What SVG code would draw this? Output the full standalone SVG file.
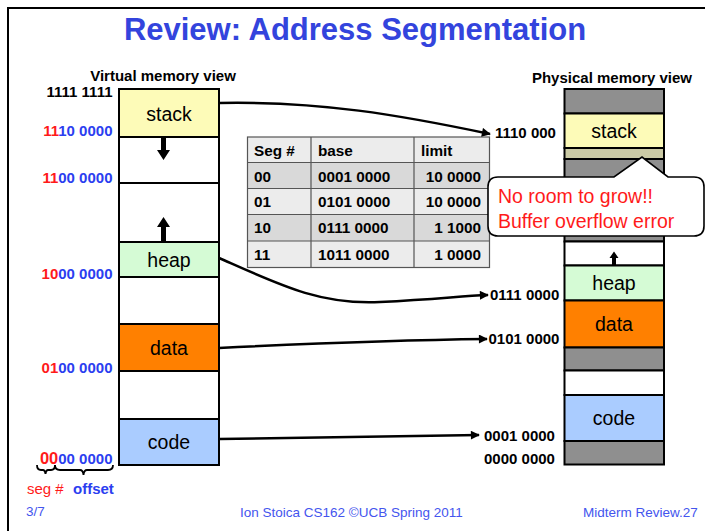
<svg xmlns="http://www.w3.org/2000/svg" width="705" height="531" viewBox="0 0 705 531">
<defs>
<style>
text{font-family:"Liberation Sans",Arial,Helvetica,sans-serif}
.seg{stroke:#000;stroke-width:2}
.lbl{font-size:19.5px;text-anchor:middle;fill:#000}
.addr{font-size:15px;font-weight:bold;fill:#000}
.red{fill:#ff1a1a}
.blue{fill:#2b3ef0}
.tb{font-size:15.3px;font-weight:bold;fill:#000}
.cell{stroke:#555;stroke-width:1.2}
.conn{fill:none;stroke:#000;stroke-width:2.5}
.foot{font-size:13.5px;fill:#4455ee}
</style>
<marker id="ah" viewBox="0 0 10 10" refX="9" refY="5" markerWidth="4" markerHeight="3.6" orient="auto" markerUnits="strokeWidth">
<path d="M0,0 L10,5 L0,10 z" fill="#000"/>
</marker>
</defs>
<rect width="705" height="531" fill="#fff"/>
<path d="M8,531 V8 H705" fill="none" stroke="#000" stroke-width="2"/>
<text x="355" y="39.5" font-size="31" font-weight="bold" text-anchor="middle" fill="#3344dd">Review: Address Segmentation</text>

<g id="virtual-view">
<text x="163" y="80.5" font-size="15" font-weight="bold" text-anchor="middle">Virtual memory view</text>
<rect class="seg" x="119" y="89" width="100" height="48" fill="#fdfbb8"/>
<text class="lbl" x="169" y="120.5">stack</text>
<rect class="seg" x="119" y="137" width="100" height="46" fill="#fff"/>
<rect class="seg" x="119" y="183" width="100" height="59" fill="#fff"/>
<path d="M161,137 V150 H157 L163.5,160 L170,150 H166 V137 Z" fill="#000"/>
<path d="M161,242 V227 H157 L163.5,217 L170,227 H166 V242 Z" fill="#000"/>
<rect class="seg" x="119" y="242" width="100" height="35" fill="#d5fbd5"/>
<text class="lbl" x="169" y="267">heap</text>
<rect class="seg" x="119" y="277" width="100" height="47" fill="#fff"/>
<rect class="seg" x="119" y="324" width="100" height="47" fill="#ff8000"/>
<text class="lbl" x="169" y="355">data</text>
<rect class="seg" x="119" y="371" width="100" height="48" fill="#fff"/>
<rect class="seg" x="119" y="419" width="100" height="46" fill="#aaccff"/>
<text class="lbl" x="169" y="449">code</text>
</g>

<g id="virtual-addresses">
<text class="addr" x="112.5" y="97" text-anchor="end">1111 1111</text>
<text class="addr" x="112.5" y="136" text-anchor="end"><tspan class="red">11</tspan><tspan class="blue">10 0000</tspan></text>
<text class="addr" x="112.5" y="182.5" text-anchor="end"><tspan class="red">11</tspan><tspan class="blue">00 0000</tspan></text>
<text class="addr" x="112.5" y="278.5" text-anchor="end"><tspan class="red">10</tspan><tspan class="blue">00 0000</tspan></text>
<text class="addr" x="112.5" y="372.5" text-anchor="end"><tspan class="red">01</tspan><tspan class="blue">00 0000</tspan></text>
<text class="addr" x="112.5" y="464" text-anchor="end"><tspan class="red" font-size="16.5">00</tspan><tspan class="blue">00 0000</tspan></text>
<path d="M37,465 Q37,470 41,470 H43 Q45,470 45.5,474 Q46,470 48,470 H51 Q55,470 55,465" fill="none" stroke="#000" stroke-width="1.8"/>
<path d="M55,465 Q55,470 60,470 H80 Q83,470 83.5,475 Q84,470 87,470 H108 Q113,470 113,465" fill="none" stroke="#000" stroke-width="1.8"/>
<text x="27" y="494" font-size="15" class="red">seg #</text>
<text x="73" y="494" font-size="15" font-weight="bold" class="blue">offset</text>
</g>

<g id="segment-table">
<rect x="247.5" y="137" width="242" height="25.5" fill="#ececec"/>
<rect x="247.5" y="162.5" width="242" height="26" fill="#d9d9d9"/>
<rect x="247.5" y="188.5" width="242" height="26" fill="#ececec"/>
<rect x="247.5" y="214.5" width="242" height="26.5" fill="#d9d9d9"/>
<rect x="247.5" y="241" width="242" height="26.5" fill="#ececec"/>
<g class="cell" fill="none">
<rect x="247.5" y="137" width="242" height="130.5"/>
<path d="M247.5,162.5 H489.5 M247.5,188.5 H489.5 M247.5,214.5 H489.5 M247.5,241 H489.5 M311,137 V267.5 M414,137 V267.5"/>
</g>
<text class="tb" x="254" y="156">Seg #</text>
<text class="tb" x="318" y="156">base</text>
<text class="tb" x="421" y="156">limit</text>
<text class="tb" x="254" y="181.5">00</text>
<text class="tb" x="318" y="181.5">0001 0000</text>
<text class="tb" x="481" y="181.5" text-anchor="end">10 0000</text>
<text class="tb" x="254" y="207">01</text>
<text class="tb" x="318" y="207">0101 0000</text>
<text class="tb" x="481" y="207" text-anchor="end">10 0000</text>
<text class="tb" x="254" y="233">10</text>
<text class="tb" x="318" y="233">0111 0000</text>
<text class="tb" x="481" y="233" text-anchor="end">1 1000</text>
<text class="tb" x="254" y="259.5">11</text>
<text class="tb" x="318" y="259.5">1011 0000</text>
<text class="tb" x="481" y="259.5" text-anchor="end">1 0000</text>
</g>

<g id="physical-view">
<text x="612" y="82.5" font-size="15" font-weight="bold" text-anchor="middle">Physical memory view</text>
<rect class="seg" x="564.5" y="89" width="99.5" height="24.5" fill="#8f8f8f"/>
<rect class="seg" x="564.5" y="113.5" width="99.5" height="34.5" fill="#fdfbb8"/>
<text class="lbl" x="614" y="138">stack</text>
<rect class="seg" x="564.5" y="148" width="99.5" height="11" fill="#cbcaa5"/>
<rect class="seg" x="564.5" y="159" width="99.5" height="82.5" fill="#8f8f8f"/>
<rect class="seg" x="564.5" y="241.5" width="99.5" height="24" fill="#fff"/>
<path d="M612,265.5 V258 H609.5 L614,251.5 L618.5,258 H616 V265.5 Z" fill="#000"/>
<rect class="seg" x="564.5" y="265.5" width="99.5" height="35" fill="#d5fbd5"/>
<text class="lbl" x="614" y="290">heap</text>
<rect class="seg" x="564.5" y="300.5" width="99.5" height="47" fill="#ff8000"/>
<text class="lbl" x="614" y="331">data</text>
<rect class="seg" x="564.5" y="347.5" width="99.5" height="23" fill="#8f8f8f"/>
<rect class="seg" x="564.5" y="370.5" width="99.5" height="24.5" fill="#fff"/>
<rect class="seg" x="564.5" y="395" width="99.5" height="46" fill="#aaccff"/>
<text class="lbl" x="614" y="425">code</text>
<rect class="seg" x="564.5" y="441" width="99.5" height="23.5" fill="#8f8f8f"/>
</g>

<g id="physical-addresses">
<text class="addr" x="495" y="137.5">1110 000</text>
<text class="addr" x="490" y="299.5">0111 0000</text>
<text class="addr" x="488.5" y="343.5">0101 0000</text>
<text class="addr" x="484" y="440.5">0001 0000</text>
<text class="addr" x="484" y="463.5">0000 0000</text>
</g>

<g id="connectors">
<path class="conn" d="M219,103 C320,101 400,115 490,134" marker-end="url(#ah)"/>
<path class="conn" d="M219,258 C280,285 320,305 380,302 S460,296 488,295" marker-end="url(#ah)"/>
<path class="conn" d="M219,348 C300,344 400,340 487,339" marker-end="url(#ah)"/>
<path class="conn" d="M219,439 L479,435" marker-end="url(#ah)"/>
</g>

<g id="callout">
<path d="M498,177 H614 L642,157 L668,177 H694 Q704,177 704,187 V226 Q704,236 694,236 H498 Q488,236 488,226 V187 Q488,177 498,177 Z" fill="#fff" stroke="#000" stroke-width="1.6"/>
<text x="498" y="203" font-size="19.5" fill="#ff1a1a">No room to grow!!</text>
<text x="498" y="227.5" font-size="19.5" fill="#ff1a1a">Buffer overflow error</text>
</g>

<g id="footer">
<text class="foot" x="26" y="516">3/7</text>
<text class="foot" x="240" y="517">Ion Stoica CS162 ©UCB Spring 2011</text>
<text class="foot" x="583" y="517">Midterm Review.27</text>
</g>
</svg>
